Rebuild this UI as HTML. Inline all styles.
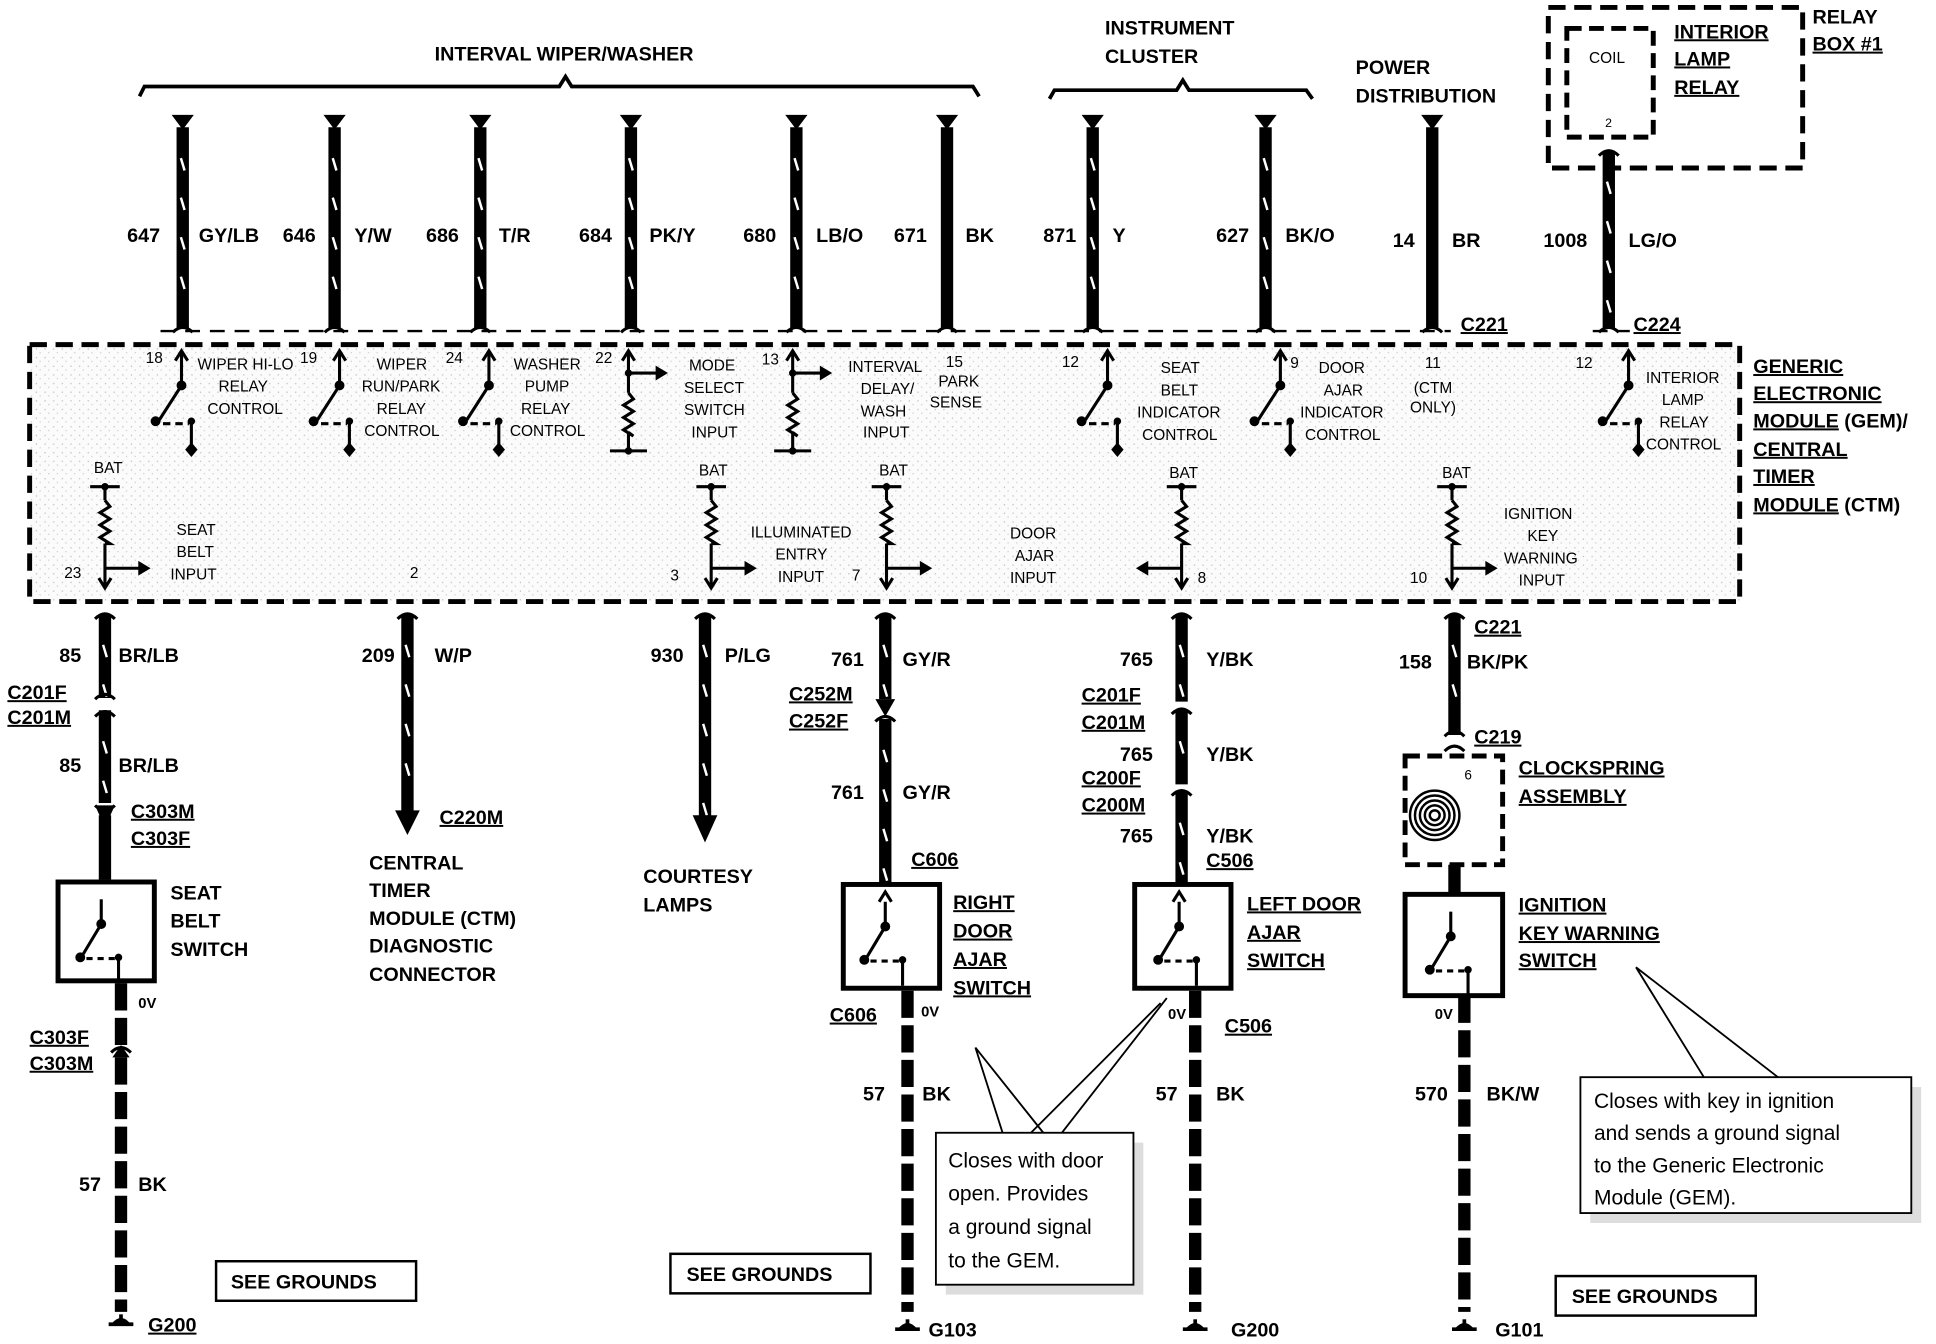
<!DOCTYPE html>
<html><head><meta charset="utf-8"><style>
html,body{margin:0;padding:0;background:#fff;}
svg{display:block;}
text{font-family:"Liberation Sans",Arial,sans-serif;fill:#000;}
.b{font-weight:bold;font-size:16px;}
.s{font-size:12.5px;}
.u{text-decoration:underline;}
.c{font-size:17px;}
</style></head><body>
<svg id="sv" width="1936" height="1344" viewBox="0 0 1568 1088" preserveAspectRatio="none" xmlns="http://www.w3.org/2000/svg">
<defs>
<pattern id="sp" width="7" height="7" patternUnits="userSpaceOnUse"><rect width="7" height="7" fill="#fbfbfb"/><rect x="1" y="2" width="1" height="1" fill="#bbb"/><rect x="4" y="5" width="1" height="1" fill="#ccc"/></pattern>
</defs>
<rect x="24" y="279" width="1385" height="208" fill="url(#sp)"/>
<rect x="24" y="279" width="1385" height="208" fill="none" stroke="#000" stroke-width="4" stroke-dasharray="14 7"/>
<line x1="130" y1="268" x2="1175" y2="268" stroke="#000" stroke-width="2" stroke-dasharray="12 8"/>
<line x1="1290" y1="268" x2="1320" y2="268" stroke="#000" stroke-width="2" stroke-dasharray="12 8"/>
<rect x="1254" y="6" width="206" height="130" fill="none" stroke="#000" stroke-width="4" stroke-dasharray="14 7"/>
<rect x="1269" y="23" width="70" height="88" fill="none" stroke="#000" stroke-width="4" stroke-dasharray="12 6"/>
<g id="g"></g>
<path d="M113 78 L117 70 L453 70 L458 62 L463 70 L788 70 L793 78" fill="none" stroke="#000" stroke-width="3"/>
<path d="M850 80 L854 73 L953 73 L958 65 L963 73 L1058 73 L1063 80" fill="none" stroke="#000" stroke-width="3"/>

<text class="b" x="352" y="49">INTERVAL WIPER/WASHER</text>
<text class="b" x="895" y="28">INSTRUMENT</text>
<text class="b" x="895" y="51">CLUSTER</text>
<text class="b" x="1098" y="60">POWER</text>
<text class="b" x="1098" y="83">DISTRIBUTION</text>
<text class="s" x="1287" y="51">COIL</text>
<text class="s" x="1300" y="103" style="font-size:10px">2</text>
<text class="b u" x="1356" y="31">INTERIOR</text>
<text class="b u" x="1356" y="53">LAMP</text>
<text class="b u" x="1356" y="76">RELAY</text>
<text class="b" x="1468" y="19">RELAY</text>
<text class="b u" x="1468" y="41">BOX #1</text>

<g class="b">
<text x="103" y="196">647</text><text x="161" y="196">GY/LB</text>
<text x="229" y="196">646</text><text x="287" y="196">Y/W</text>
<text x="345" y="196">686</text><text x="404" y="196">T/R</text>
<text x="469" y="196">684</text><text x="526" y="196">PK/Y</text>
<text x="602" y="196">680</text><text x="661" y="196">LB/O</text>
<text x="724" y="196">671</text><text x="782" y="196">BK</text>
<text x="845" y="196">871</text><text x="901" y="196">Y</text>
<text x="985" y="196">627</text><text x="1041" y="196">BK/O</text>
<text x="1128" y="200">14</text><text x="1176" y="200">BR</text>
<text x="1250" y="200">1008</text><text x="1319" y="200">LG/O</text>
<text class="u" x="1183" y="268">C221</text>
<text class="u" x="1323" y="268">C224</text>
</g>

<g class="s">
<text x="118" y="294">18</text><text x="160" y="299">WIPER HI-LO</text><text x="177" y="317">RELAY</text><text x="168" y="335">CONTROL</text>
<text x="243" y="294">19</text><text x="305" y="299">WIPER</text><text x="293" y="317">RUN/PARK</text><text x="305" y="335">RELAY</text><text x="295" y="353">CONTROL</text>
<text x="361" y="294">24</text><text x="416" y="299">WASHER</text><text x="425" y="317">PUMP</text><text x="422" y="335">RELAY</text><text x="413" y="353">CONTROL</text>
<text x="482" y="294">22</text><text x="558" y="300">MODE</text><text x="554" y="318">SELECT</text><text x="554" y="336">SWITCH</text><text x="560" y="354">INPUT</text>
<text x="617" y="295">13</text><text x="687" y="301">INTERVAL</text><text x="697" y="319">DELAY/</text><text x="697" y="337">WASH</text><text x="699" y="354">INPUT</text>
<text x="766" y="297">15</text><text x="760" y="313">PARK</text><text x="753" y="330">SENSE</text>
<text x="860" y="297">12</text><text x="940" y="302">SEAT</text><text x="940" y="320">BELT</text><text x="921" y="338">INDICATOR</text><text x="925" y="356">CONTROL</text>
<text x="1045" y="298">9</text><text x="1068" y="302">DOOR</text><text x="1072" y="320">AJAR</text><text x="1053" y="338">INDICATOR</text><text x="1057" y="356">CONTROL</text>
<text x="1154" y="298">11</text><text x="1145" y="318">(CTM</text><text x="1142" y="334">ONLY)</text>
<text x="1276" y="298">12</text><text x="1333" y="310">INTERIOR</text><text x="1346" y="328">LAMP</text><text x="1344" y="346">RELAY</text><text x="1333" y="364">CONTROL</text>
<text x="76" y="383">BAT</text><text x="566" y="385">BAT</text><text x="712" y="385">BAT</text><text x="947" y="387">BAT</text><text x="1168" y="387">BAT</text>
<text x="52" y="468">23</text><text x="143" y="433">SEAT</text><text x="143" y="451">BELT</text><text x="138" y="469">INPUT</text>
<text x="332" y="468">2</text>
<text x="543" y="470">3</text><text x="608" y="435">ILLUMINATED</text><text x="628" y="453">ENTRY</text><text x="630" y="471">INPUT</text><text x="690" y="470">7</text>
<text x="818" y="436">DOOR</text><text x="822" y="454">AJAR</text><text x="818" y="472">INPUT</text>
<text x="970" y="472">8</text>
<text x="1142" y="472">10</text><text x="1218" y="420">IGNITION</text><text x="1237" y="438">KEY</text><text x="1218" y="456">WARNING</text><text x="1230" y="474">INPUT</text>
</g>
<g class="b">
<text class="u" x="1420" y="302">GENERIC</text>
<text class="u" x="1420" y="324">ELECTRONIC</text>
<text x="1420" y="346"><tspan class="u">MODULE</tspan> (GEM)/</text>
<text class="u" x="1420" y="369">CENTRAL</text>
<text class="u" x="1420" y="391">TIMER</text>
<text x="1420" y="414"><tspan class="u">MODULE</tspan> (CTM)</text>

<text x="48" y="536">85</text><text x="96" y="536">BR/LB</text>
<text class="u" x="6" y="566">C201F</text><text class="u" x="6" y="586">C201M</text>
<text x="48" y="625">85</text><text x="96" y="625">BR/LB</text>
<text class="u" x="106" y="662">C303M</text><text class="u" x="106" y="684">C303F</text>
<text x="138" y="728">SEAT</text><text x="138" y="751">BELT</text><text x="138" y="774">SWITCH</text>
<text style="font-size:12px" x="112" y="816">0V</text>
<text class="u" x="24" y="845">C303F</text><text class="u" x="24" y="866">C303M</text>
<text x="64" y="964">57</text><text x="112" y="964">BK</text>

<text x="293" y="536">209</text><text x="352" y="536">W/P</text>
<text class="u" x="356" y="667">C220M</text>
<text x="299" y="704">CENTRAL</text><text x="299" y="726">TIMER</text><text x="299" y="749"><tspan>MODULE</tspan> (CTM)</text><text x="299" y="771">DIAGNOSTIC</text><text x="299" y="794">CONNECTOR</text>

<text x="527" y="536">930</text><text x="587" y="536">P/LG</text>
<text x="521" y="715">COURTESY</text><text x="521" y="738">LAMPS</text>

<text x="673" y="539">761</text><text x="731" y="539">GY/R</text>
<text class="u" x="639" y="567">C252M</text><text class="u" x="639" y="589">C252F</text>
<text x="673" y="647">761</text><text x="731" y="647">GY/R</text>
<text class="u" x="738" y="701">C606</text>
<text class="u" x="772" y="736">RIGHT</text><text class="u" x="772" y="759">DOOR</text><text class="u" x="772" y="782">AJAR</text><text class="u" x="772" y="805">SWITCH</text>
<text class="u" x="672" y="827">C606</text><text style="font-size:12px" x="746" y="823">0V</text>
<text x="699" y="891">57</text><text x="747" y="891">BK</text>

<text x="907" y="539">765</text><text x="977" y="539">Y/BK</text>
<text class="u" x="876" y="568">C201F</text><text class="u" x="876" y="590">C201M</text>
<text x="907" y="616">765</text><text x="977" y="616">Y/BK</text>
<text class="u" x="876" y="635">C200F</text><text class="u" x="876" y="657">C200M</text>
<text x="907" y="682">765</text><text x="977" y="682">Y/BK</text>
<text class="u" x="977" y="702">C506</text>
<text class="u" x="1010" y="737">LEFT DOOR</text><text class="u" x="1010" y="760">AJAR</text><text class="u" x="1010" y="783">SWITCH</text>
<text style="font-size:12px" x="946" y="825">0V</text><text class="u" x="992" y="836">C506</text>
<text x="936" y="891">57</text><text x="985" y="891">BK</text>

<text class="u" x="1194" y="513">C221</text>
<text x="1133" y="541">158</text><text x="1188" y="541">BK/PK</text>
<text class="u" x="1194" y="602">C219</text>
<text class="u" x="1230" y="627">CLOCKSPRING</text><text class="u" x="1230" y="650">ASSEMBLY</text>
<text class="u" x="1230" y="738">IGNITION</text><text class="u" x="1230" y="761">KEY WARNING</text><text class="u" x="1230" y="783">SWITCH</text>
<text style="font-size:12px" x="1162" y="825">0V</text>
<text x="1146" y="891">570</text><text x="1204" y="891">BK/W</text>

<text class="u" x="120" y="1078">G200</text>
<text x="752" y="1082">G103</text>
<text x="997" y="1082">G200</text>
<text x="1211" y="1082">G101</text>
</g>
<rect x="175" y="1021" width="162" height="32" fill="#fff" stroke="#000" stroke-width="2"/>
<text class="b" x="187" y="1043">SEE GROUNDS</text>
<rect x="543" y="1015" width="162" height="32" fill="#fff" stroke="#000" stroke-width="2"/>
<text class="b" x="556" y="1037">SEE GROUNDS</text>
<rect x="1260" y="1033" width="162" height="32" fill="#fff" stroke="#000" stroke-width="2"/>
<text class="b" x="1273" y="1055">SEE GROUNDS</text>
<rect x="766" y="925" width="160" height="123" fill="#ddd"/>
<rect x="758" y="917" width="160" height="123" fill="#fff" stroke="#000" stroke-width="1.5"/>
<path d="M790 848 L812 917 M835 917 L940 812 M860 917 L945 808 M790 848 L845 917" stroke="#000" stroke-width="1.5" fill="none"/>
<text class="c" x="768" y="945">Closes with door</text><text class="c" x="768" y="972">open.  Provides</text><text class="c" x="768" y="999">a ground signal</text><text class="c" x="768" y="1026">to the GEM.</text>
<rect x="1288" y="880" width="268" height="110" fill="#ddd"/>
<rect x="1280" y="872" width="268" height="110" fill="#fff" stroke="#000" stroke-width="1.5"/>
<path d="M1325 783 L1380 872 M1325 783 L1440 872" stroke="#000" stroke-width="1.5" fill="none"/>
<text class="c" x="1291" y="897">Closes with key in ignition</text><text class="c" x="1291" y="923">and sends a ground signal</text><text class="c" x="1291" y="949">to the Generic Electronic</text><text class="c" x="1291" y="975">Module (GEM).</text>
</svg>
<script>
var g=document.getElementById('g'),h='';
function L(a,b,c,d,w,dash,col){h+='<line x1="'+a+'" y1="'+b+'" x2="'+c+'" y2="'+d+'" stroke="'+(col||'#000')+'" stroke-width="'+w+'"'+(dash?' stroke-dasharray="'+dash+'"':'')+'/>';}
function P(d,f){h+='<path d="'+d+'" '+(f?'fill="#000"':'fill="none" stroke="#000" stroke-width="2.5"')+'/>';}
function C(x,y,r){h+='<circle cx="'+x+'" cy="'+y+'" r="'+(r||4)+'" fill="#000"/>';}
function wire(x,y1,y2,ticks){L(x,y1,x,y2,10);if(ticks!==false)for(var y=y1+25;y<y2-10;y+=32){L(x-1.5,y,x+1.5,y+10,2,null,'#fff');}}
function dwire(x,y1,y2){L(x,y1,x,y2,10,'22 6');}
function tri(x,y){P('M'+(x-9)+' '+y+' L'+(x+9)+' '+y+' L'+x+' '+(y+12)+'Z',1);}
function fork(x,y){P('M'+(x-8)+' '+(y+4)+' Q'+x+' '+(y-4)+' '+(x+8)+' '+(y+4));}
[148,271,389,511,645,767,885,1025,1160,1303].forEach(function(x,i){
 if(i<9){tri(x,93);wire(x,103,266,i!=5&&i!=8);}else{wire(x,122,266);fork(x,122);}
 fork(x,265);
});
function sw(x){P('M'+(x-5)+' 292 L'+x+' 284 L'+(x+5)+' 292');L(x,284,x,312,2.5);C(x,312);L(x,312,x-18,340,2.5);C(x-21,341);L(x-15,343,x+6,343,2.5,'6 4');C(x+8,341,3);L(x+8,341,x+8,365,2.5);P('M'+(x+8)+' 358 l-5 6 l5 6 l5 -6Z',1);}
[128,256,377,878,1018,1300].forEach(function(x){sw(x+19)});
function rz(x,y1,y2){var d='M'+x+' '+y1;for(var y=y1,k=0;y<y2;y+=5,k++){d+=' L'+(x+(k%2?-4:4))+' '+(y+5);}d+=' L'+x+' '+y2;P(d);}
function inp(x){P('M'+(x-5)+' 292 L'+x+' 284 L'+(x+5)+' 292');L(x,284,x,318,2.5);C(x,302,3);L(x,302,x+25,302,2.5);P('M'+(x+22)+' 296 L'+(x+32)+' 302 L'+(x+22)+' 308Z',1);rz(x,318,350);L(x,350,x,365,2.5);L(x-15,365,x+15,365,2.5);C(x,365,3);}
inp(509);inp(642);
function bat(x,arrowDir){L(x-12,394,x+12,394,2.5);C(x,394,3);L(x,394,x,405,2.5);rz(x,405,440);L(x,440,x,476,2.5);P('M'+(x-5)+' 468 L'+x+' 476 L'+(x+5)+' 468');
 if(arrowDir>0){L(x,460,x+30,460,2.5);P('M'+(x+27)+' 454 L'+(x+37)+' 460 L'+(x+27)+' 466Z',1);}else{L(x,460,x-30,460,2.5);P('M'+(x-27)+' 454 L'+(x-37)+' 460 L'+(x-27)+' 466Z',1);}}
bat(85,1);bat(576,1);bat(718,1);bat(957,-1);bat(1176,1);
[85,330,571,717,957,1178].forEach(function(x){fork(x,497);});
wire(85,497,565);P('M77 566 Q85 558 93 566',0);wire(85,575,650);fork(85,576);P('M77 652 Q85 660 93 652');P('M77 652 L85 670 L93 652Z',1);wire(85,660,712,false);
wire(330,497,658);P('M320 656 L340 656 L330 676Z',1);
wire(571,497,662);P('M561 660 L581 660 L571 682Z',1);
wire(717,497,566);P('M709 566 L717 580 L725 566Z',1);fork(717,580);wire(717,582,715);
wire(957,497,568);fork(957,574);wire(957,575,635);fork(957,640);wire(957,641,715);
wire(1178,497,595);P('M1170 596 Q1178 588 1186 596');fork(1178,604);
function box(x,y,w,hh,dash){h+='<rect x="'+x+'" y="'+y+'" width="'+w+'" height="'+hh+'" fill="#fff" stroke="#000" stroke-width="4"'+(dash?' stroke-dasharray="12 6"':'')+'/>';}
function bsw(cx,y){L(cx,y+10,cx,y+30,2.5);C(cx,y+30);L(cx,y+30,cx-15,y+55,2.5);C(cx-17,y+57);L(cx-12,y+58,cx+12,y+58,2.5,'5 4');C(cx+14,y+57,3);L(cx+14,y+57,cx+14,y+78,2.5);}
box(47,714,78,80);bsw(82,718);
box(683,716,78,84);bsw(717,720);P('M712 730 L717 722 L722 730');
box(919,716,78,84);bsw(955,720);P('M950 730 L955 722 L960 730');
box(1138,724,79,82);bsw(1175,728);
box(1138,612,79,88,1);
for(var r=4;r<=22;r+=4)h+='<circle cx="1162" cy="660" r="'+r+'" fill="none" stroke="#000" stroke-width="2"/>';
h+='<text x="1186" y="631" style="font-size:11px;font-family:Liberation Sans">6</text>';
L(1178,700,1178,724,10);
P('M90 852 Q98 844 106 852');P('M91 856 L98 846 L105 856Z',1);dwire(98,796,846);dwire(98,856,1062);
dwire(735,802,1062);dwire(968,802,1062);dwire(1186,806,1062);
function gnd(x,y){L(x,y,x,y+8,3);L(x-10,y+8,x+10,y+8,3);P('M'+(x-8)+' '+(y+8)+' Q'+x+' '+(y-2)+' '+(x+8)+' '+(y+8),1);}
gnd(98,1064);gnd(735,1068);gnd(968,1068);gnd(1186,1068);
g.innerHTML=h;
</script>
</body></html>
